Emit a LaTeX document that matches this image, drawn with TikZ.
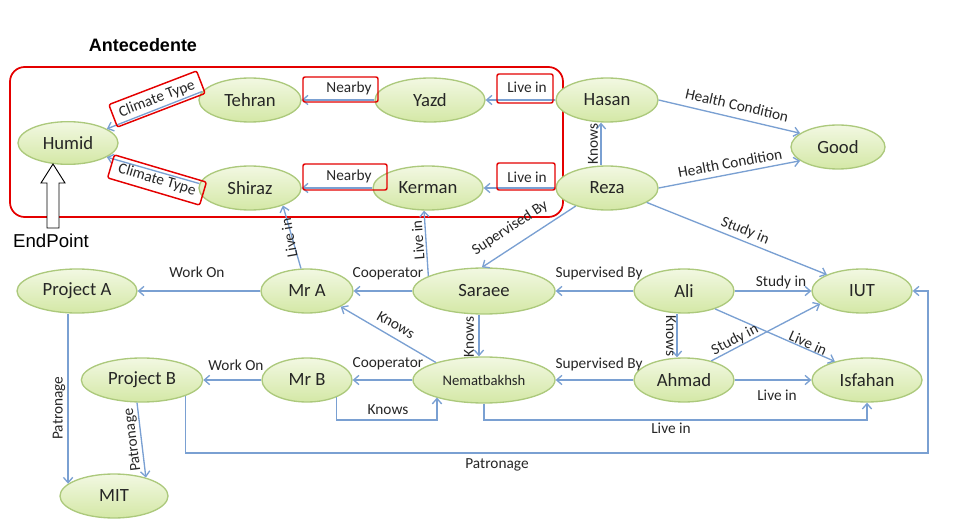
\documentclass[tikz,border=0pt]{standalone}
\usepackage{fontspec}
\setmainfont{Carlito}
\newfontfamily\arialfont{Liberation Sans}
\usetikzlibrary{shapes.geometric,arrows.meta}
\definecolor{edgeblue}{RGB}{122,160,210}
\definecolor{nodeedge}{RGB}{172,201,124}
\definecolor{nodetop}{RGB}{242,248,226}
\definecolor{nodebot}{RGB}{212,232,166}
\definecolor{boxred}{RGB}{228,0,0}
\definecolor{txt}{RGB}{38,38,38}
\begin{document}
\begin{tikzpicture}[x=0.75pt,y=-0.75pt,
  ent/.style={ellipse, draw=nodeedge, line width=1pt, top color=nodetop, bottom color=nodebot,
    inner sep=0pt, minimum height=33pt, font=\fontsize{14}{16}\selectfont, text=txt},
  rel/.style={draw=edgeblue, line width=1pt, -{Straight Barb[length=4pt,width=7pt]}},
  lbl/.style={font=\fontsize{11.5}{13}\selectfont, text=txt, inner sep=1pt},
  redbox/.style={draw=boxred, line width=1.1pt, rounded corners=1.5pt, inner sep=0pt},
]
\useasboundingbox (0,0) rectangle (960,520);

% antecedent frame
\node[font=\arialfont\bfseries\fontsize{13.5}{16}\selectfont] (ante) at (143,45) {Antecedente};
\draw[draw=boxred, line width=1.3pt, rounded corners=11pt] (10,67) rectangle (563,217);

% entities
\node[ent, minimum width=75pt, minimum height=32pt] (humid) at (68,143) {Humid};
\node[ent, minimum width=76.5pt] (tehran) at (250,100) {Tehran};
\node[ent, minimum width=82.5pt] (yazd) at (430,100) {Yazd};
\node[ent, minimum width=76.5pt] (hasan) at (607,100) {Hasan};
\node[ent, minimum width=76.5pt] (shiraz) at (250,188) {Shiraz};
\node[ent, minimum width=82.5pt] (kerman) at (428,188) {Kerman};
\node[ent, minimum width=76.5pt] (reza) at (607,188) {Reza};
\node[ent, minimum width=70.5pt] (good) at (838,147) {Good};
\node[ent, minimum width=90pt] (projecta) at (77,291) {Project A};
\node[ent, minimum width=69pt] (mra) at (307,291) {Mr A};
\node[ent, minimum width=106.5pt, minimum height=34.5pt] (saraee) at (484,291) {Saraee};
\node[ent, minimum width=75pt] (ali) at (684,291) {Ali};
\node[ent, minimum width=75pt] (iut) at (862,291) {IUT};
\node[ent, minimum width=91pt] (projectb) at (142,380) {Project B};
\node[ent, minimum width=67.5pt] (mrb) at (307,380) {Mr B};
\node[ent, minimum width=106.5pt, minimum height=34.5pt, font=\fontsize{11}{13}\selectfont] (nemat) at (484,380) {Nematbakhsh};
\node[ent, minimum width=75pt] (ahmad) at (684,380) {Ahmad};
\node[ent, minimum width=82.5pt] (isfahan) at (867,380) {Isfahan};
\node[ent, minimum width=81pt] (mit) at (114,496) {MIT};

% antecedent relations
\draw[rel] (tehran.170) -- (humid.20);
\node[lbl, redbox, rotate=21, minimum width=70.5pt, minimum height=18pt] (ct1) at (157,99) {Climate Type};
\draw[rel] (shiraz.175) -- (humid.-20);
\node[lbl, redbox, rotate=-16.5, minimum width=72pt, minimum height=18pt] (ct2) at (157,180) {Climate Type};
\draw[rel] (yazd) -- (tehran);
\node[redbox, minimum width=56.25pt, minimum height=18.75pt] (nb1box) at (340.5,89.5) {};
\node[lbl] (nb1) at (349,88) {Nearby};
\draw[rel] (kerman) -- (shiraz);
\node[redbox, minimum width=63pt, minimum height=19.5pt] (nb2box) at (345,177) {};
\node[lbl] (nb2) at (349,176) {Nearby};
\draw[rel] (hasan) -- (yazd);
\node[redbox, minimum width=42pt, minimum height=21.75pt] (li1box) at (525,88.5) {};
\node[lbl] (li1) at (527,87) {Live in};
\draw[rel] (reza) -- (kerman);
\node[redbox, minimum width=43.5pt, minimum height=20.25pt] (li2box) at (526,176.5) {};
\node[lbl] (li2) at (527,177) {Live in};

% right upper relations
\draw[rel] ([xshift=-4.5pt]reza.north) -- ([xshift=-4.5pt]hasan.south);
\node[lbl, rotate=90] (kn1) at (593,144) {Knows};
\draw[rel] (hasan.east) -- (good.160);
\node[lbl, rotate=-13] (hc1) at (737,105) {Health Condition};
\draw[rel] (reza.east) -- (good.200);
\node[lbl, rotate=10.5] (hc2) at (730,163) {Health Condition};
\draw[rel] (reza.-20) -- (iut.155);
\node[lbl, rotate=-22] (si1) at (745,231) {Study in};
\draw[rel] (reza.210) -- (saraee.95);
\node[lbl, rotate=33] (sb1) at (510,228) {Supervised By};

% live in (crossing the frame)
\draw[rel] (mra.105) -- (shiraz.-28);
\node[lbl, rotate=100] (li3) at (289,238) {Live in};
\draw[rel] (saraee.165) -- (kerman.-100);
\node[lbl, rotate=94] (li4) at (418,240) {Live in};

% row 3
\draw[rel] (saraee) -- (mra);
\node[lbl] (co1) at (388,274) {Cooperator};
\draw[rel] (mra) -- (projecta);
\node[lbl] (wo1) at (197,272) {Work On};
\draw[rel] (ali) -- (saraee);
\node[lbl] (sb2) at (599,273) {Supervised By};
\draw[rel] (ali) -- (iut);
\node[lbl] (si2) at (781,282) {Study in};
\draw[rel] (ali.-30) -- (isfahan.150);
\node[lbl, rotate=-24] (li5) at (808,343) {Live in};

% vertical knows
\draw[rel] ([xshift=-3.75pt]saraee.south) -- ([xshift=-3.75pt]nemat.north);
\node[lbl, rotate=90] (kn2) at (469,337) {Knows};
\draw[rel] ([xshift=-5.25pt]ali.south) -- ([xshift=-5.25pt]ahmad.north);
\node[lbl, rotate=-90] (kn3) at (671,336) {Knows};
\draw[rel] (nemat.160) -- (mra.-25);
\node[lbl, rotate=-30] (kn4) at (396,325) {Knows};

% row 4
\draw[rel] (nemat) -- (mrb);
\node[lbl] (co2) at (388,364) {Cooperator};
\draw[rel] (mrb) -- (projectb);
\node[lbl] (wo2) at (236,365) {Work On};
\draw[rel] (ahmad) -- (nemat);
\node[lbl] (sb3) at (599,364) {Supervised By};
\draw[rel] (ahmad) -- (isfahan);
\node[lbl] (li6) at (777,395) {Live in};
\draw[rel] (ahmad.35) -- (iut.197);
\node[lbl, rotate=27] (si3) at (735,340) {Study in};

% routed connectors
\coordinate (k1) at (437,420);
\draw[rel] (mrb.-30) |- (k1) -- (k1 |- nemat.-160);
\node[lbl] (kn5) at (388,410) {Knows};
\coordinate (l1) at (484,420);
\coordinate (l2) at (867,420);
\draw[rel] (nemat.south) -- (l1) -- (l2) -- (isfahan.south);
\node[lbl] (li7) at (671,428) {Live in};
\coordinate (p1) at (928,453);
\draw[rel] (projectb.-20) |- (p1) |- (iut.east);
\node[lbl] (pa1) at (497,465) {Patronage};

% patronage to MIT
\draw[rel] (projecta.south -| mit.165) -- (mit.165);
\node[lbl, rotate=90] (pa2) at (59,408) {Patronage};
\draw[rel] ([xshift=-3.75pt]projectb.south) -- (mit.30);
\node[lbl, rotate=97] (pa3) at (133,440) {Patronage};

% end point marker
\draw[line width=0.7pt, fill=white] (47,228) -- (47,183) -- (41,183) -- (53,164) -- (65,183) -- (59,183) -- (59,228) -- cycle;
\node[font=\arialfont\fontsize{14}{16}\selectfont] (endpt) at (51,241) {EndPoint};
\end{tikzpicture}
\end{document}
